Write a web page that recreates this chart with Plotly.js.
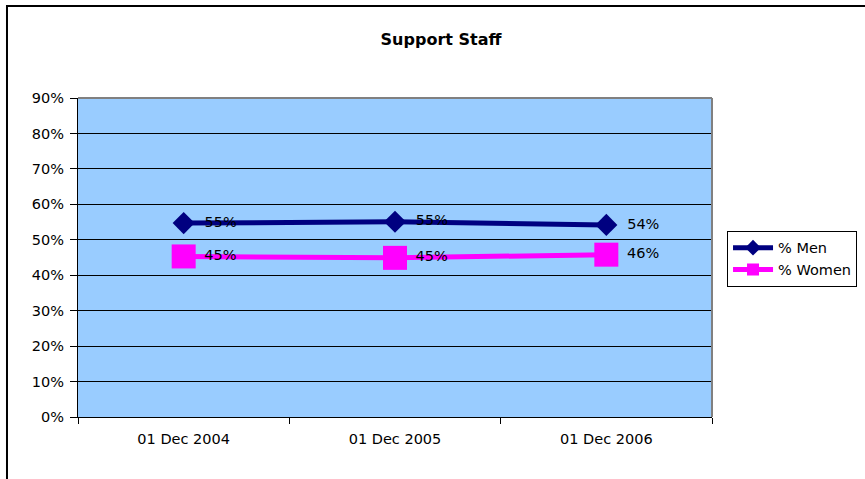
<!DOCTYPE html>
<html>
<head>
<meta charset="utf-8">
<script src="https://cdn.plot.ly/plotly-3.0.1.min.js"></script>
<style>html,body{margin:0;padding:0;background:#fff;}#chart{width:865px;height:479px;}</style>
</head>
<body>
<div id="chart"></div>
<script>
const categories = ["01 Dec 2004", "01 Dec 2005", "01 Dec 2006"];
const menValues = [54.7, 55.1, 54.2];
const womenValues = [45.3, 44.9, 45.8];
const yTickVals = [0, 10, 20, 30, 40, 50, 60, 70, 80, 90];
const yTickText = ["0%", "10%", "20%", "30%", "40%", "50%", "60%", "70%", "80%", "90%"];

const FONT = "DejaVu Sans, Arial, sans-serif";
const labelFont = {family: FONT, size: 14.5, color: "#000"};

const traces = [
  {
    x: categories, y: menValues, name: "% Men", type: "scatter", mode: "lines+markers+text",
    line: {color: "#000080", width: 5},
    marker: {symbol: "diamond", size: 17, color: "#000080"},
    text: menValues.map(v => "\u00a0\u00a0" + Math.round(v) + "%"),
    textposition: "middle right", textfont: labelFont, cliponaxis: false
  },
  {
    x: categories, y: womenValues, name: "% Women", type: "scatter", mode: "lines+markers+text",
    line: {color: "#FF00FF", width: 5},
    marker: {symbol: "square", size: 24, color: "#FF00FF"},
    text: womenValues.map(v => "\u00a0" + Math.round(v) + "%"),
    textposition: "middle right", textfont: labelFont, cliponaxis: false
  }
];

const layout = {
  width: 865, height: 479,
  margin: {l: 78, r: 153, t: 98, b: 62, autoexpand: false},
  paper_bgcolor: "#ffffff",
  plot_bgcolor: "#99CCFF",
  font: labelFont,
  title: {text: "<b>Support Staff</b>", x: 0.5726, xref: "paper", xanchor: "center", y: 0.917, yanchor: "middle",
          font: {family: FONT, size: 16, color: "#000"}},
  showlegend: true,
  legend: {x: 1.0237, y: 0.584, xanchor: "left", yanchor: "top",
           bordercolor: "#000", borderwidth: 1, bgcolor: "#fff",
           font: labelFont, tracegroupgap: 0, itemsizing: "constant", itemwidth: 40},
  xaxis: {
    type: "category", tickson: "boundaries", ticks: "outside", ticklen: 6, tickcolor: "#000",
    showline: true, linecolor: "#000", linewidth: 1, showgrid: false,
    tickfont: labelFont, zeroline: false, range: [-0.5, 2.5], ticklabelstandoff: 9
  },
  yaxis: {
    range: [0, 90], tickvals: yTickVals, ticktext: yTickText,
    ticks: "outside", ticklen: 7, tickcolor: "#000",
    showline: true, linecolor: "#000", linewidth: 1,
    showgrid: true, gridcolor: "#000", gridwidth: 1, zeroline: false,
    tickfont: labelFont, ticklabelstandoff: 3
  },
  shapes: [
    {type: "line", xref: "paper", yref: "paper", x0: 0, x1: 1, y0: 1, y1: 1, line: {color: "#808080", width: 2}, layer: "above"},
    {type: "line", xref: "paper", yref: "paper", x0: 1, x1: 1, y0: 0, y1: 1, line: {color: "#808080", width: 2}, layer: "above"},
    {type: "rect", xref: "paper", yref: "paper", x0: -0.112, x1: 1.3, y0: -0.5, y1: 1.2884, line: {color: "#000", width: 2}, fillcolor: "rgba(0,0,0,0)", layer: "above"}
  ]
};

Plotly.newPlot("chart", traces, layout, {displayModeBar: false, staticPlot: true});
</script>
</body>
</html>
